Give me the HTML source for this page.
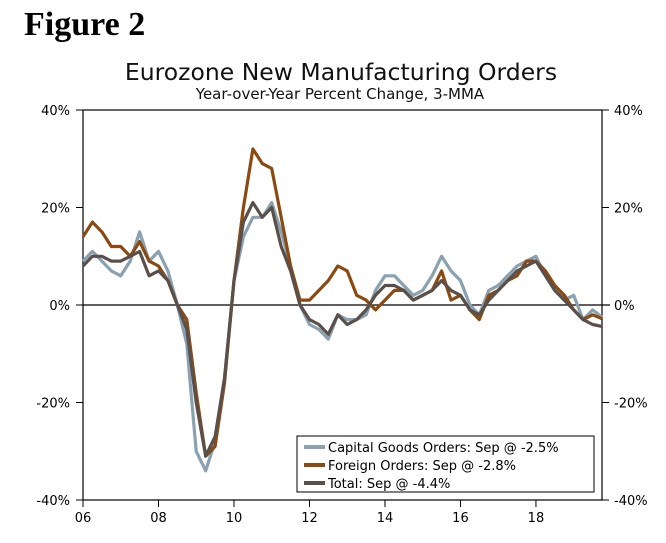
<!DOCTYPE html>
<html><head><meta charset="utf-8"><style>
body{margin:0;background:#fff;width:666px;height:539px;overflow:hidden;font-family:"DejaVu Sans","Liberation Sans",sans-serif}
</style></head><body>
<svg width="666" height="539" viewBox="0 0 666 539" xmlns="http://www.w3.org/2000/svg">
<text x="24" y="35" font-family="Liberation Serif,serif" font-weight="bold" font-size="34" fill="#000">Figure 2</text>
<text x="341" y="80" text-anchor="middle" font-size="23.5" fill="#111">Eurozone New Manufacturing Orders</text>
<text x="340" y="99" text-anchor="middle" font-size="15" fill="#111">Year-over-Year Percent Change, 3-MMA</text>
<g id="axes"></g>
<g id="series"></g>
<g>
<rect x="297" y="436" width="297" height="56" fill="#fff" stroke="#000" stroke-width="1"/>
<line x1="304" y1="447" x2="325" y2="447" stroke="#8aa1b1" stroke-width="4"/>
<text x="328" y="452" font-size="13" fill="#000">Capital Goods Orders: Sep @ -2.5%</text>
<line x1="304" y1="465" x2="325" y2="465" stroke="#8b4a12" stroke-width="4"/>
<text x="328" y="470" font-size="13" fill="#000">Foreign Orders: Sep @ -2.8%</text>
<line x1="304" y1="483" x2="325" y2="483" stroke="#5a504b" stroke-width="4"/>
<text x="328" y="488" font-size="13" fill="#000">Total: Sep @ -4.4%</text>
</g>
</svg>
<script>
const startYear = 2006;
const capitalGoods = [9,11,9,7,6,9,15,9,11,7,0,-8,-30,-34,-28,-15,5,14,18,18,21,15,8,0,-4,-5,-7,-2,-3,-3,-2,3,6,6,4,2,3,6,10,7,5,0,-2,3,4,6,8,9,10,6,3,1,2,-3,-1,-2.5];
const foreignOrders = [14,17,15,12,12,10,13,9,8,5,0,-3,-18,-31,-29,-16,5,20,32,29,28,18,8,1,1,3,5,8,7,2,1,-1,1,3,3,1,2,3,7,1,2,-1,-3,2,3,5,6,9,9,7,4,2,-1,-3,-2,-2.8];
const totalOrders = [8,10,10,9,9,10,11,6,7,5,0,-5,-20,-31,-27,-15,5,17,21,18,20,12,7,0,-3,-4,-6,-2,-4,-3,-1,2,4,4,3,1,2,3,5,3,2,-1,-2,1,3,5,7,8,9,6,3,1,-1,-3,-4,-4.4];
const yTicks = [40,20,0,-20,-40];
const yTickLabels = ["40%","20%","0%","-20%","-40%"];
const xTicks = [2006,2008,2010,2012,2014,2016,2018];
const xTickLabels = ["06","08","10","12","14","16","18"];

const L=83,R=602,T=110,B=500;
const xS=yr=>L+(yr-2006)/(2019.75-2006)*(R-L);
const yS=v=>T+(40-v)/80*(B-T);
const NS="http://www.w3.org/2000/svg";
function mk(tag,attrs,parent){const e=document.createElementNS(NS,tag);for(const k in attrs)e.setAttribute(k,attrs[k]);parent.appendChild(e);return e;}
const ax=document.getElementById('axes');
let e;
e=mk('rect',{x:L,y:T,width:R-L,height:B-T,fill:'none',stroke:'#000','stroke-width':1.2},ax);


e=mk('line',{x1:L,x2:R+8,y1:yS(0),y2:yS(0),stroke:'#000','stroke-width':1.2},ax);


yTicks.forEach((v,i)=>{
  mk('line',{x1:L-7,x2:L,y1:yS(v),y2:yS(v),stroke:'#000'},ax);
  mk('line',{x1:R,x2:R+7,y1:yS(v),y2:yS(v),stroke:'#000'},ax);
  let t=mk('text',{x:L-13,y:yS(v)+5,'text-anchor':'end','font-size':13},ax);t.textContent=yTickLabels[i];
  
  
  t=mk('text',{x:R+12,y:yS(v)+5,'font-size':13},ax);t.textContent=yTickLabels[i];
  
  
});
xTicks.forEach((yr,i)=>{
  mk('line',{x1:xS(yr),x2:xS(yr),y1:B,y2:B+7,stroke:'#000'},ax);
  let t=mk('text',{x:xS(yr),y:B+22,'text-anchor':'middle','font-size':13},ax);t.textContent=xTickLabels[i];
  
  
});
const sg=document.getElementById('series');
function line(data,color,name){
  const pts=data.map((v,i)=>xS(startYear+i*0.25).toFixed(1)+','+yS(v).toFixed(1)).join(' ');
  const p=mk('polyline',{points:pts,fill:'none',stroke:color,'stroke-width':3.2,'stroke-linejoin':'round'},sg);
  
  
}
line(capitalGoods,'#8aa1b1','capital-goods-line');
line(foreignOrders,'#8b4a12','foreign-orders-line');
line(totalOrders,'#5a504b','total-orders-line');
</script>
</body></html>
